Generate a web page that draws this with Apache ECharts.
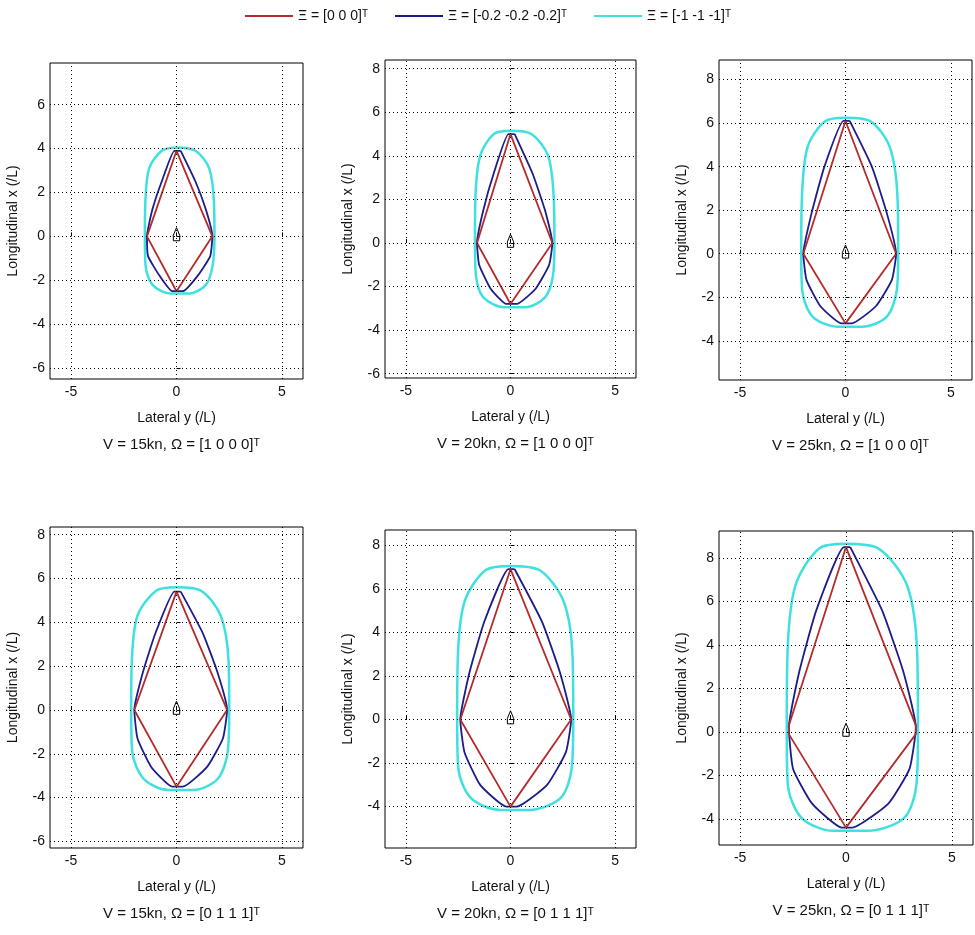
<!DOCTYPE html>
<html>
<head>
<meta charset="utf-8">
<script src="https://cdn.jsdelivr.net/npm/echarts@6/dist/echarts.min.js"></script>
<style>html,body{margin:0;padding:0;background:#fff}#myChart{width:975px;height:935px}</style>
</head>
<body>
<div id="myChart"></div>
<script>
var names = ['Ξ = [0 0 0]ᵀ', 'Ξ = [-0.2 -0.2 -0.2]ᵀ', 'Ξ = [-1 -1 -1]ᵀ'];
var colors = ['#b52a2a', '#1c1c8a', '#3fe0e0'];
var titles = ['V = 15kn, Ω = [1 0 0 0]ᵀ', 'V = 20kn, Ω = [1 0 0 0]ᵀ', 'V = 25kn, Ω = [1 0 0 0]ᵀ',
              'V = 15kn, Ω = [0 1 1 1]ᵀ', 'V = 20kn, Ω = [0 1 1 1]ᵀ', 'V = 25kn, Ω = [0 1 1 1]ᵀ'];
var yTicks = [
	[-6, -4, -2, 0, 2, 4, 6],
	[-6, -4, -2, 0, 2, 4, 6, 8],
	[-4, -2, 0, 2, 4, 6, 8],
	[-6, -4, -2, 0, 2, 4, 6, 8],
	[-4, -2, 0, 2, 4, 6, 8],
	[-4, -2, 0, 2, 4, 6, 8]
];
var xTicks = [-5, 0, 5];
var yRanges = [[-6.5, 7.9], [-6.2, 8.4], [-5.8, 8.9], [-6.3, 8.35], [-5.9, 8.7], [-5.2, 9.24]];

// [lateral y, longitudinal x]
var red = [
	[[0,3.9],[1.7,0],[0,-2.5],[-1.4,0],[0,3.9]],
	[[0,5],[2,0],[0,-2.8],[-1.6,0],[0,5]],
	[[0,6.1],[2.4,0],[0,-3.2],[-2.0,0],[0,6.1]],
	[[0,5.4],[2.4,0],[0,-3.5],[-2.0,0],[0,5.4]],
	[[0,6.9],[2.9,0],[0,-4.0],[-2.4,0],[0,6.9]],
	[[0,8.5],[3.3,0.3],[3.3,-0.1],[0,-4.4],[-2.7,-0.1],[-2.7,0.3],[0,8.5]]
];
var blue = [
	[[0.2,3.9],[0.9,2.5],[1.4,1.2],[1.7,0],[1.6,-0.9],[1.0,-1.8],[0.3,-2.5],[-0.2,-2.5],[-0.8,-1.8],[-1.35,-0.9],[-1.4,0],[-1.15,1.2],[-0.7,2.5],[-0.1,3.9],[0.2,3.9]],
	[[0.2,5],[1.05,3.2],[1.65,1.5],[2.0,0],[1.85,-1.0],[1.2,-2.1],[0.3,-2.8],[-0.2,-2.8],[-0.95,-2.1],[-1.5,-1.0],[-1.6,0],[-1.3,1.5],[-0.8,3.2],[-0.1,5],[0.2,5]],
	[[0.2,6.1],[1.25,4.0],[1.95,1.9],[2.4,0],[2.2,-1.2],[1.45,-2.4],[0.3,-3.2],[-0.2,-3.2],[-1.2,-2.4],[-1.85,-1.2],[-2.0,0],[-1.6,1.9],[-1.0,4.0],[-0.1,6.1],[0.2,6.1]],
	[[0.2,5.4],[1.25,3.5],[1.95,1.7],[2.4,0],[2.2,-1.3],[1.45,-2.6],[0.3,-3.5],[-0.2,-3.5],[-1.2,-2.6],[-1.85,-1.3],[-2.0,0],[-1.6,1.7],[-1.0,3.5],[-0.1,5.4],[0.2,5.4]],
	[[0.2,6.9],[1.5,4.5],[2.35,2.2],[2.9,0],[2.65,-1.5],[1.75,-3.0],[0.3,-4.0],[-0.2,-4.0],[-1.45,-3.0],[-2.2,-1.5],[-2.4,0],[-1.95,2.2],[-1.25,4.5],[-0.1,6.9],[0.2,6.9]],
	[[0.2,8.5],[1.7,5.6],[2.7,2.8],[3.3,0.2],[3.0,-1.7],[2.0,-3.3],[0.3,-4.4],[-0.2,-4.4],[-1.6,-3.3],[-2.5,-1.7],[-2.7,0.2],[-2.2,2.8],[-1.4,5.6],[-0.1,8.5],[0.2,8.5]]
];
var cyan = [
	[[0,4.05],[0.9,3.9],[1.55,3.1],[1.78,1.5],[1.8,0],[1.72,-1.3],[1.4,-2.2],[0.6,-2.6],[-0.3,-2.6],[-1.15,-2.2],[-1.47,-1.3],[-1.5,0],[-1.48,1.5],[-1.3,3.1],[-0.7,3.9],[0,4.05]],
	[[0,5.15],[1.0,5.0],[1.8,4.0],[2.07,2.0],[2.1,0],[2.03,-1.5],[1.65,-2.5],[0.7,-2.95],[-0.3,-2.95],[-1.3,-2.5],[-1.65,-1.5],[-1.7,0],[-1.68,2.0],[-1.45,4.0],[-0.8,5.0],[0,5.15]],
	[[0,6.25],[1.15,6.1],[2.1,4.9],[2.47,2.5],[2.5,0],[2.43,-1.7],[1.95,-2.9],[0.8,-3.35],[-0.4,-3.35],[-1.55,-2.9],[-2.05,-1.7],[-2.1,0],[-2.07,2.5],[-1.8,4.9],[-0.95,6.1],[0,6.25]],
	[[0,5.6],[1.15,5.45],[2.1,4.3],[2.47,2.2],[2.5,0],[2.43,-1.9],[1.95,-3.15],[0.8,-3.65],[-0.4,-3.65],[-1.55,-3.15],[-2.1,-1.9],[-2.15,0],[-2.12,2.2],[-1.85,4.3],[-0.95,5.45],[0,5.6]],
	[[0,7.05],[1.4,6.85],[2.55,5.4],[2.97,2.8],[3.0,0],[2.93,-2.2],[2.4,-3.6],[0.9,-4.15],[-0.5,-4.15],[-1.9,-3.6],[-2.5,-2.2],[-2.55,0],[-2.52,2.8],[-2.2,5.4],[-1.2,6.85],[0,7.05]],
	[[0,8.65],[1.5,8.45],[2.9,6.7],[3.37,3.4],[3.4,0],[3.33,-2.4],[2.75,-3.95],[1.0,-4.55],[-0.6,-4.55],[-2.1,-3.95],[-2.75,-2.4],[-2.8,0],[-2.77,3.4],[-2.4,6.7],[-1.25,8.45],[0,8.65]]
];
var boat = [[0,0.4],[0.15,0.05],[0.15,-0.2],[-0.15,-0.2],[-0.15,0.05],[0,0.4]];

var grids = [
	{left: 50, top: 63, width: 253, height: 316},
	{left: 385, top: 60, width: 251, height: 318},
	{left: 719, top: 60, width: 253, height: 320},
	{left: 50, top: 527, width: 253, height: 321},
	{left: 385, top: 530, width: 251, height: 318},
	{left: 719, top: 531, width: 254, height: 314}
];

var myChart = echarts.init(document.getElementById('myChart'));
var font = 'Liberation Sans, Arial, sans-serif';
var option = {
	backgroundColor: '#fff',
	animation: false,
	textStyle: {fontFamily: font},
	legend: {
		top: 4, left: 'center', itemWidth: 48, itemHeight: 2, itemGap: 26,
		data: names, textStyle: {fontSize: 14, color: '#111', fontFamily: font}
	},
	title: [], grid: [], xAxis: [], yAxis: [], series: []
};

grids.forEach(function (g, i) {
	option.grid.push({left: g.left, top: g.top, width: g.width, height: g.height,
		show: true, borderColor: '#000', borderWidth: 1, backgroundColor: '#fff'});
	option.title.push({
		text: titles[i], left: g.left + g.width / 2, textAlign: 'center',
		top: g.top + g.height + 53,
		textStyle: {fontSize: 15, fontWeight: 'normal', color: '#111', fontFamily: font}
	});
	option.xAxis.push({
		type: 'value', gridIndex: i, min: -6, max: 6, interval: 5,
		name: 'Lateral y (/L)', nameLocation: 'middle', nameGap: 32,
		nameTextStyle: {fontSize: 14, color: '#111'},
		axisLine: {show: false}, splitLine: {show: false},
		axisTick: {show: true, inside: true, length: 4, lineStyle: {color: '#000'}, customValues: xTicks},
		axisLabel: {fontSize: 14, color: '#111', customValues: xTicks, margin: 6}
	});
	option.yAxis.push({
		type: 'value', gridIndex: i, min: yRanges[i][0], max: yRanges[i][1],
		name: 'Longitudinal x (/L)', nameLocation: 'middle', nameGap: 30,
		nameTextStyle: {fontSize: 14, color: '#111'},
		axisLine: {show: false}, splitLine: {show: false},
		axisTick: {show: true, inside: true, length: 4, lineStyle: {color: '#000'}, customValues: yTicks[i]},
		axisLabel: {fontSize: 14, color: '#111', customValues: yTicks[i], margin: 5}
	});
	var gridLines = xTicks.map(function (v) { return {xAxis: v}; })
		.concat(yTicks[i].map(function (v) { return {yAxis: v}; }));
	option.series.push({
		type: 'line', xAxisIndex: i, yAxisIndex: i, data: [], silent: true,
		markLine: {silent: true, symbol: 'none', label: {show: false},
			lineStyle: {type: [1, 3], color: '#000', width: 1}, data: gridLines}
	});
	[cyan[i], blue[i], red[i]].forEach(function (d, k) {
		var idx = 2 - k;
		option.series.push({
			name: names[idx], type: 'line', xAxisIndex: i, yAxisIndex: i, data: d,
			symbol: 'none', smooth: idx === 2 ? 0.3 : (idx === 1 ? 0.15 : false),
			lineStyle: {color: colors[idx], width: idx === 2 ? 2.5 : 1.8},
			itemStyle: {color: colors[idx]}
		});
	});
	option.series.push({
		type: 'line', xAxisIndex: i, yAxisIndex: i, data: boat, symbol: 'none',
		lineStyle: {color: '#000', width: 1}
	});
});

myChart.setOption(option);
</script>
</body>
</html>
